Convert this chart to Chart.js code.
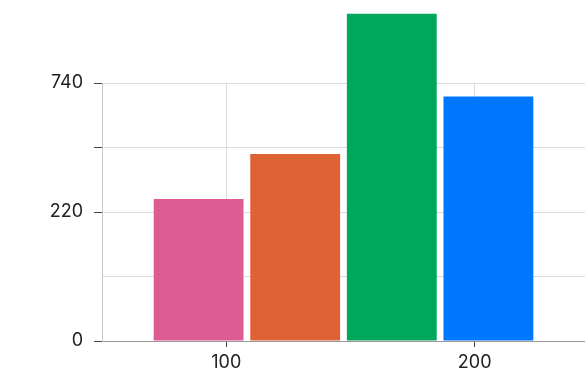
<!DOCTYPE html>
<html>
<head>
<meta charset="utf-8">
<script src="https://cdn.jsdelivr.net/npm/chart.js@4.4.1/dist/chart.umd.min.js"></script>
<style>
  html, body { margin: 0; padding: 0; background: #ffffff; overflow: hidden; }
  #wrap { width: 585px; height: 374px; position: relative; }
</style>
</head>
<body>
<div id="wrap"><canvas id="c" width="585" height="374"></canvas></div>
<script>
// ---- data ----
const categories = [''];
const seriesNames = ['A', 'B', 'C', 'D'];
const seriesValues = [[242], [319], [558], [417]];
const seriesColors = ['#DD5C94', '#DF6234', '#00A85E', '#0077FF'];
const yTickValues = [0, 110, 220, 330, 440];
const yTickLabels = ['0', '', '220', '', '740'];
const xTickValues = [100, 200];
const xTickLabels = ['100', '200'];

const FONT = { family: 'Inter, "Noto Sans", sans-serif', size: 18 };

const datasets = seriesNames.map((name, i) => ({
  label: name,
  data: seriesValues[i],
  backgroundColor: seriesColors[i],
  borderWidth: 0,
  categoryPercentage: 0.8,
  barPercentage: 0.93,
  clip: false,
  xAxisID: 'x'
}));

new Chart(document.getElementById('c'), {
  type: 'bar',
  data: { labels: categories, datasets },
  options: {
    responsive: false,
    animation: false,
    layout: { padding: { top: 83, left: 0, right: 0, bottom: 0 } },
    plugins: { legend: { display: false }, tooltip: { enabled: false } },
    scales: {
      x: { type: 'category', display: false },
      x2: {
        type: 'linear',
        position: 'bottom',
        offset: false,
        min: 50,
        max: 244.4,
        afterBuildTicks: (s) => { s.ticks = xTickValues.map(v => ({ value: v })); },
        afterFit: (s) => { s.height = 33; },
        ticks: {
          color: '#222',
          font: FONT,
          padding: 5,
          maxRotation: 0,
          autoSkip: false,
          callback: (v, i) => xTickLabels[i]
        },
        grid: { offset: false, color: '#dcdcdc', tickColor: '#444', tickLength: 6, lineWidth: 1 },
        border: { color: '#9a9a9a', width: 1 }
      },
      y: {
        type: 'linear',
        min: 0,
        max: 440,
        afterBuildTicks: (s) => { s.ticks = yTickValues.map(v => ({ value: v })); },
        afterFit: (s) => { s.width = 102; },
        ticks: {
          color: '#222',
          font: FONT,
          padding: 11,
          autoSkip: false,
          callback: (v, i) => yTickLabels[i]
        },
        grid: {
          color: '#dcdcdc',
          tickColor: (ctx) => ctx.index === 1 ? 'rgba(0,0,0,0)' : '#444',
          tickLength: 8,
          lineWidth: 1
        },
        border: { color: '#c8c8c8', width: 1 }
      }
    }
  }
});
</script>
</body>
</html>
